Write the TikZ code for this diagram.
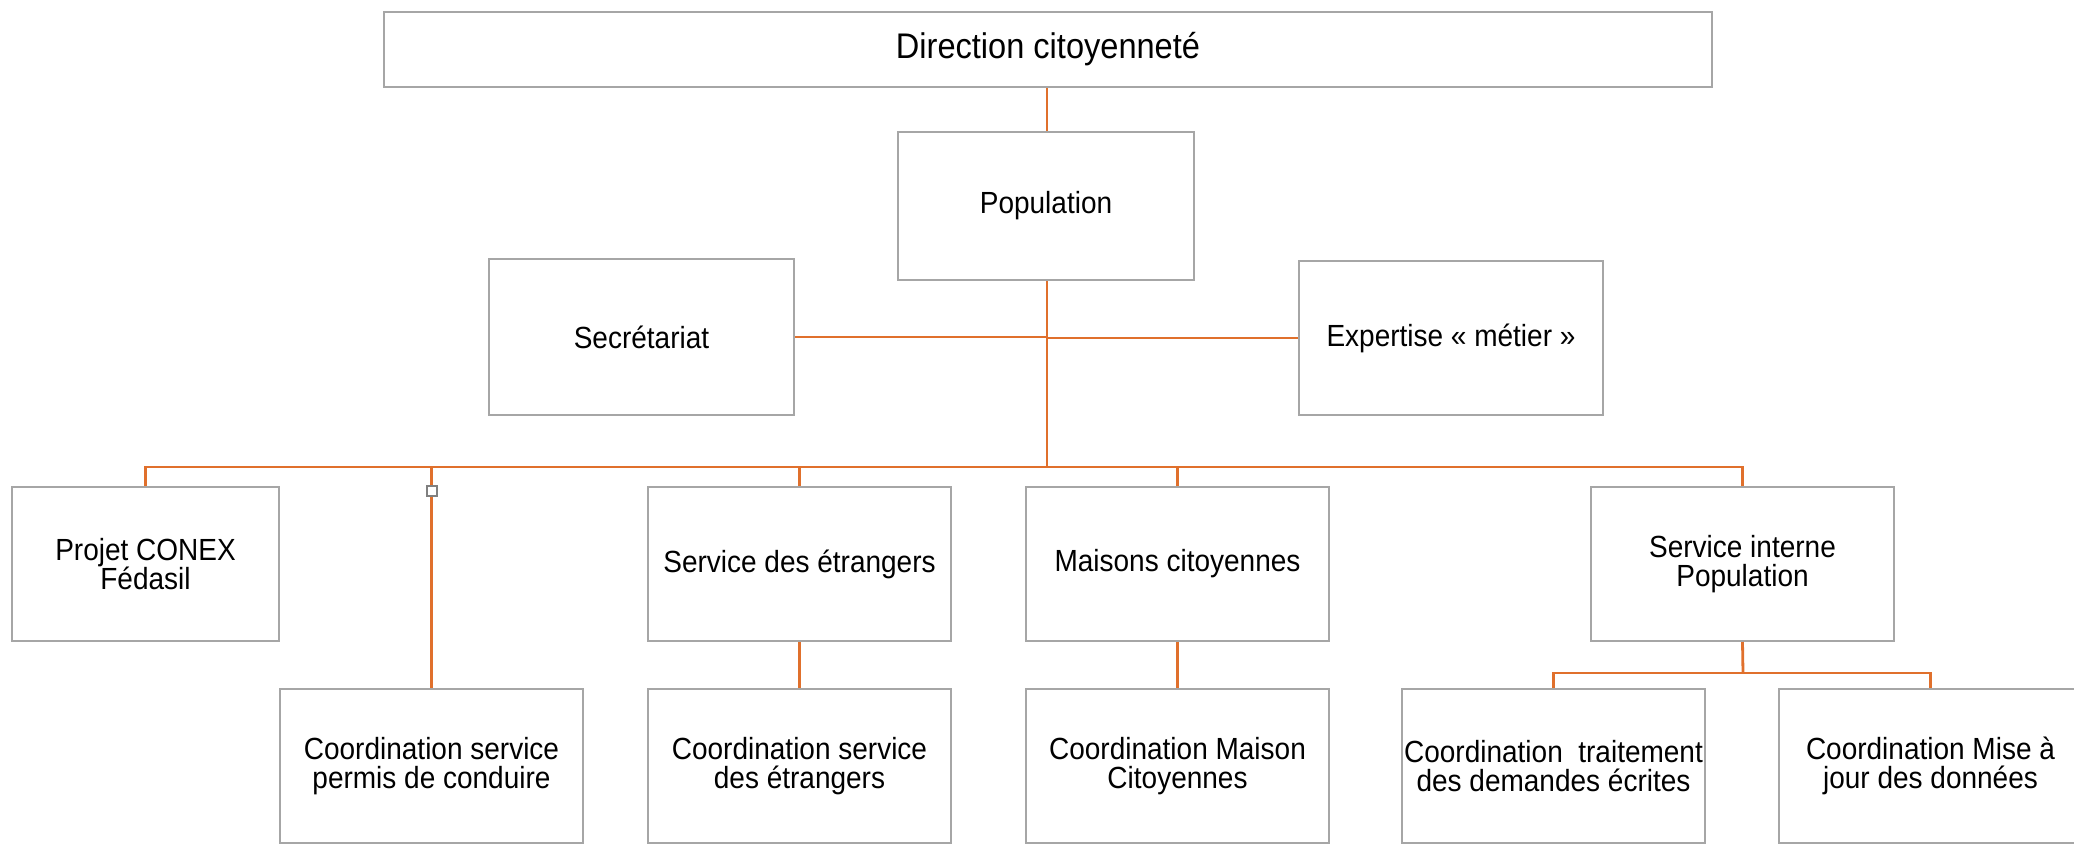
\documentclass[tikz,border=0pt]{standalone}
\usepackage{fontspec}
\setmainfont[FakeStretch=0.915]{Liberation Sans}
\usepackage{tikz}
\usetikzlibrary{positioning}
\definecolor{boxgray}{HTML}{A6A6A6}
\definecolor{linkorange}{HTML}{E0702C}
\tikzset{
  unitbox/.style={draw=boxgray, line width=1pt, fill=white, minimum width=151.5pt, minimum height=77pt, align=center, inner sep=0pt, font=\fontsize{15.3}{14.5}\selectfont},
  topbox/.style={unitbox, minimum width=664pt, minimum height=37.5pt, font=\fontsize{17.8}{18}\selectfont},
  link/.style={draw=linkorange, line width=1.4pt},
  sidelink/.style={draw=linkorange, line width=1pt},
  handle/.style={draw=gray, fill=white, line width=0.6pt, minimum size=5pt, inner sep=0pt}
}
\begin{document}
\begin{tikzpicture}[x=0.5pt, y=-0.5pt]
      \useasboundingbox (0,0) rectangle (2074,843);
      \node[topbox] (dir) at (1048,49.5) {\raisebox{-2pt}{Direction citoyenneté}};
      \node[unitbox, minimum width=148pt, minimum height=74pt] (pop) at (1046,206) {Population};
      \node[unitbox, minimum width=152.5pt, minimum height=78pt] (sec) at (641.5,337) {Secrétariat};
      \node[unitbox, minimum width=152pt] (exp) at (1451,338) {Expertise « métier »};
      \node[unitbox, minimum width=133.5pt] (conex) at (145.5,564) {Projet CONEX\\Fédasil};
      \node[unitbox] (etr) at (799.5,564) {Service des étrangers};
      \node[unitbox] (mai) at (1177.5,564) {Maisons citoyennes};
      \node[unitbox] (int) at (1742.5,564) {Service interne\\Population};
      \node[unitbox] (cperm) at (431.5,766) {Coordination service\\permis de conduire};
      \node[unitbox] (cetr) at (799.5,766) {Coordination service\\des étrangers};
      \node[unitbox] (cmai) at (1177.5,766) {Coordination Maison\\Citoyennes};
      \node[unitbox] (ctrt) at (1553.5,766) {Coordination\ \ traitement\\des demandes écrites};
      \node[unitbox] (cmaj) at (1930.5,766) {Coordination Mise à\\jour des données};
      \coordinate (bus) at (1047,467);
      \coordinate (split) at (1743,673);
      \draw[link] (dir.south -| bus) -- (pop.north -| bus);
      \draw[link] (pop.south -| bus) -- (bus);
      \draw[sidelink] (sec.east) -- (sec.east -| bus);
      \draw[sidelink] (exp.west) -- (exp.west -| bus);
      \draw[link] (conex.north) |- (bus) -| (int.north);
      \draw[link] (cperm.north) -- (cperm.north |- bus);
      \draw[link] (etr.north) -- (etr.north |- bus);
      \draw[link] (mai.north) -- (mai.north |- bus);
      \draw[link] (etr.south) -- (cetr.north);
      \draw[link] (mai.south) -- (cmai.north);
      \draw[link] (int.south) -- (split);
      \draw[link] (ctrt.north) |- (split) -| (cmaj.north);
      \node[handle] (hnd) at (432,491) {};
    \end{tikzpicture}
\end{document}
